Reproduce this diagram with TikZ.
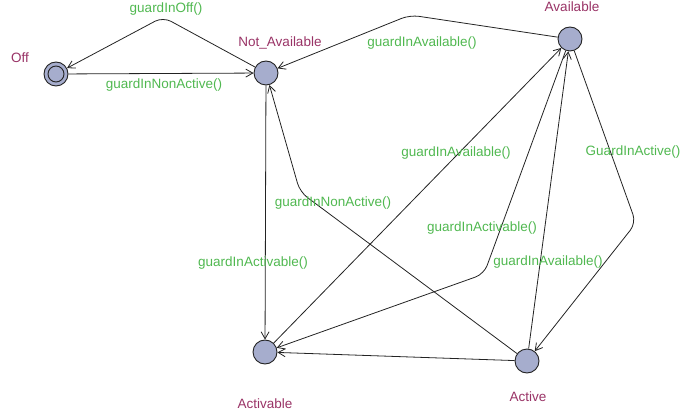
\documentclass[tikz,border=0pt]{standalone}
\usepackage{fontspec}
\setmainfont{Liberation Sans}
\usetikzlibrary{arrows.meta}
\definecolor{locfill}{RGB}{166,173,205}
\definecolor{locname}{RGB}{153,51,102}
\definecolor{guardc}{RGB}{80,184,80}
\definecolor{edgec}{RGB}{35,35,35}
\begin{document}
\begin{tikzpicture}[x=1pt,y=-1pt,
  loc/.style={circle,draw=edgec,line width=0.9pt,fill=locfill,minimum size=24pt,inner sep=0pt},
  lname/.style={text=locname,font=\fontsize{13.5}{15}\selectfont,inner sep=0pt},
  guard/.style={text=guardc,font=\fontsize{13.5}{15}\selectfont,inner sep=0pt},
  tr/.style={draw=edgec,line width=0.8pt,rounded corners=9pt,-{Straight Barb[length=7pt,width=8pt]}}]
\useasboundingbox (0,0) rectangle (680,414);
% locations
\node[loc] (off) at (56,74) {};
\node[circle,draw=edgec,line width=0.9pt,minimum size=16pt,inner sep=0pt] (offin) at (off) {};
\node[loc] (na) at (266,73) {};
\node[loc] (av) at (570,39) {};
\node[loc] (ab) at (265,352) {};
\node[loc] (ac) at (527,361) {};
% names
\node[lname] (noff) at (20,58) {Off};
\node[lname] (nna) at (280,43) {Not\_Available};
\node[lname] (nav) at (572,7) {Available};
\node[lname] (nab) at (265,404) {Activable};
\node[lname] (nac) at (528,397) {Active};
% transitions
\draw[tr] (na) -- (163,17) -- (off);
\draw[tr] (off) -- (na);
\draw[tr] (av) -- (410,15) -- (na);
\draw[tr] (na) -- (ab);
\draw[tr] (ac) -- (300,192) -- (na);
\draw[tr] (ab) -- (av);
\draw[tr] (av) -- (484,274) -- (ab);
\draw[tr] (ac) -- (ab);
\draw[tr] (ac) -- (av);
\draw[tr] (av) -- (636,223) -- (ac);
% guards
\node[guard] (g1) at (166,9) {guardInOff()};
\node[guard] (g2) at (164,85) {guardInNonActive()};
\node[guard] (g3) at (422,43) {guardInAvailable()};
\node[guard] (g4) at (456,153) {guardInAvailable()};
\node[guard] (g5) at (333,203) {guardInNonActive()};
\node[guard] (g6) at (253,263) {guardInActivable()};
\node[guard] (g7) at (482,228) {guardInActivable()};
\node[guard] (g8) at (548,262) {guardInAvailable()};
\node[guard] (g9) at (633,152) {GuardInActive()};
\end{tikzpicture}
\end{document}
